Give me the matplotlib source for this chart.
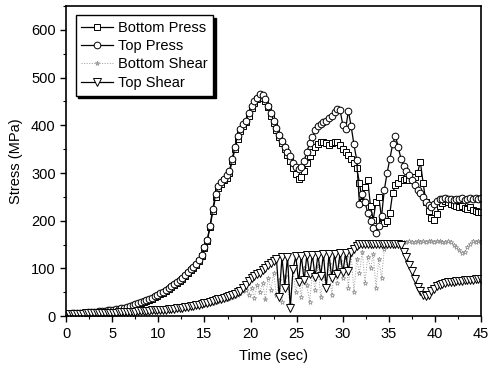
import numpy as np
import matplotlib
matplotlib.use('Agg')
import matplotlib.pyplot as plt
from matplotlib.ticker import MultipleLocator

plt.rcParams['font.family'] = ['Liberation Sans', 'DejaVu Sans']
plt.rcParams['font.size'] = 10

# time base, one sample every 0.3 s
time = np.round(np.arange(0, 45.01, 0.3), 1)

bottom_press = [
    5, 5, 5, 6, 6, 6, 7, 7, 7, 8,
    8, 9, 9, 10, 10, 11, 12, 13, 14, 15,
    16, 17, 18, 20, 22, 24, 26, 28, 30, 32,
    34, 37, 40, 43, 46, 49, 53, 57, 61, 65,
    69, 73, 78, 84, 90, 96, 102, 108, 116, 126,
    142, 158, 186, 220, 250, 268, 278, 285, 290, 300,
    325, 350, 372, 388, 398, 406, 420, 436, 447, 455,
    460, 458, 450, 438, 420, 405, 390, 375, 362, 350,
    338, 325, 310, 298, 288, 292, 305, 320, 335, 345,
    355, 360, 366, 366, 362, 358, 362, 366, 364, 358,
    350, 343, 338, 330, 322, 310, 280, 240, 270, 286,
    230, 202, 240, 250, 205, 195, 200, 216, 258, 275,
    280, 290, 285, 288, 285, 290, 292, 300, 324, 280,
    240, 220, 205, 202, 215, 230, 238, 242, 240, 236,
    232, 230, 228, 230, 226, 225, 228, 222, 220, 219,
    219]

top_press = [
    5, 5, 6, 6, 6, 7, 7, 7, 8, 8,
    9, 9, 10, 11, 11, 12, 13, 14, 15, 16,
    17, 18, 20, 21, 23, 25, 27, 29, 31, 33,
    36, 39, 42, 45, 48, 51, 55, 59, 63, 67,
    71, 75, 80, 86, 92, 98, 104, 110, 118, 128,
    145, 160, 190, 225, 255, 272, 282, 288, 295, 305,
    330, 355, 378, 392, 402, 410, 425, 440, 450, 458,
    465, 463, 455, 440, 425, 410, 395, 380, 368, 355,
    345, 335, 322, 312, 308, 312, 325, 345, 362, 375,
    390, 398, 403, 406, 410, 415, 420, 428, 434, 432,
    400, 392, 430, 398, 360, 328, 235, 255, 240, 216,
    200, 185, 175, 190, 210, 265, 300, 330, 360, 378,
    355, 330, 315, 305, 295, 285, 275, 265, 258, 250,
    240, 232, 228, 235, 242, 245, 246, 248, 246, 245,
    244, 246, 245, 248, 244, 246, 247, 245, 248, 246,
    247]

bottom_shear = [
    4, 4, 5, 4, 5, 5, 5, 5, 5, 6,
    5, 6, 6, 6, 6, 7, 6, 7, 7, 7,
    7, 8, 8, 8, 9, 9, 9, 10, 10, 10,
    11, 11, 12, 12, 13, 13, 14, 14, 15, 15,
    16, 17, 17, 18, 19, 20, 21, 22, 23, 24,
    25, 26, 27, 28, 30, 31, 33, 35, 36, 38,
    40, 42, 45, 48, 52, 55, 45, 60, 38, 65,
    50, 70, 35, 80, 55, 90, 45, 75, 30, 85,
    60, 25, 95, 50, 80, 40, 100, 65, 30, 90,
    55, 105, 40, 85, 60, 110, 45, 95, 70, 115,
    80, 125, 60, 130, 50, 120, 90, 135, 70, 125,
    100, 130, 60, 120, 80, 140, 150, 152, 153, 154,
    155, 154, 156, 155, 157, 156, 155, 158, 156, 157,
    156, 158, 157, 155, 158, 157, 156, 155, 157, 156,
    150, 145, 138, 132, 135, 145, 152, 158, 155, 158,
    156]

top_shear = [
    5, 5, 5, 5, 5, 5, 5, 6, 6, 6,
    6, 6, 6, 6, 7, 7, 7, 7, 7, 8,
    8, 8, 8, 9, 9, 9, 10, 10, 10, 11,
    11, 12, 12, 13, 13, 14, 14, 15, 16, 16,
    17, 18, 18, 19, 20, 21, 22, 23, 24, 26,
    27, 28, 30, 31, 33, 35, 37, 39, 41, 43,
    44, 47, 50, 53, 60, 66, 74, 80, 84, 88,
    90, 96, 102, 108, 112, 115, 120, 40, 124, 60,
    125, 17, 98, 126, 72, 127, 75, 128, 88, 128,
    82, 129, 85, 130, 60, 130, 80, 131, 88, 132,
    92, 132, 95, 134, 140, 148, 151, 152, 152, 152,
    152, 152, 152, 152, 152, 152, 152, 152, 152, 152,
    152, 150, 135, 124, 108, 95, 78, 62, 52, 44,
    42, 44, 52, 58, 63, 66, 68, 70, 71, 72,
    72, 73, 74, 74, 75, 75, 76, 76, 77, 77,
    78]

fig = plt.figure(figsize=(4.9, 3.72), dpi=100)
ax = fig.add_axes([0.135, 0.150, 0.847, 0.834])

ms = 4.8
ax.plot(time, bottom_press, color='black', lw=0.9, marker='s', ms=ms,
        mfc='white', mec='black', mew=0.7, label='Bottom Press')
ax.plot(time, top_press, color='black', lw=0.9, marker='o', ms=ms,
        mfc='white', mec='black', mew=0.7, label='Top Press')
ax.plot(time, bottom_shear, color='0.6', lw=0.7, ls=':', marker='*', ms=3.5,
        mfc='none', mec='0.55', mew=0.5, label='Bottom Shear')
ax.plot(time, top_shear, color='black', lw=0.9, marker='v', ms=ms + 0.5,
        mfc='white', mec='black', mew=0.7, label='Top Shear')

ax.set_xlim(0, 45)
ax.set_ylim(0, 650)
ax.xaxis.set_major_locator(MultipleLocator(5))
ax.xaxis.set_minor_locator(MultipleLocator(2.5))
ax.yaxis.set_major_locator(MultipleLocator(100))
ax.yaxis.set_minor_locator(MultipleLocator(50))
ax.tick_params(which='major', direction='out', length=4, width=1, labelsize=10.5)
ax.tick_params(which='minor', direction='out', length=2.5, width=0.8)
for s in ax.spines.values():
    s.set_linewidth(1.2)

ax.set_xlabel('Time (sec)', fontsize=10.5, labelpad=6)
ax.set_ylabel('Stress (MPa)', fontsize=10.5, labelpad=6)

leg = ax.legend(loc='upper left', bbox_to_anchor=(0.005, 0.995), fontsize=10.5,
                handlelength=2.2, handletextpad=0.3, labelspacing=0.3,
                borderpad=0.4, fancybox=False, framealpha=1,
                shadow={'color': 'black', 'alpha': 1, 'ox': 2, 'oy': -2})
leg.get_frame().set_edgecolor('black')
leg.get_frame().set_linewidth(1.0)

fig.savefig('out.png', dpi=100)
